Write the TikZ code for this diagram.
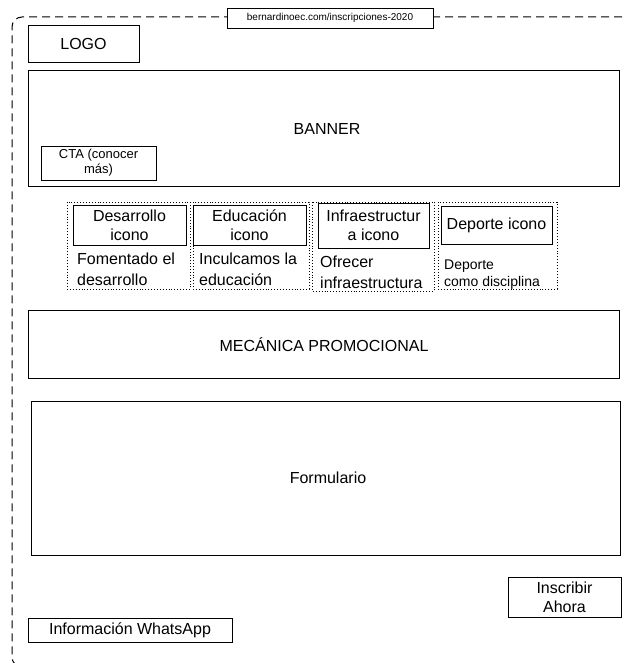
\documentclass[tikz,border=0pt]{standalone}
\usepackage{fontspec}
\setmainfont{Liberation Sans}
\begin{document}
\begin{tikzpicture}[x=1pt,y=-1pt,
  box/.style={draw=black,line width=0.9pt,fill=white,inner sep=0pt},
  grp/.style={draw=black,line width=0.9pt,dotted,inner sep=0pt},
  frame/.style={draw=black,line width=1pt,dash pattern=on 8pt off 5pt,rounded corners=10pt},
  lbl/.style={font=\fontsize{16}{19}\selectfont,align=center,inner sep=0pt},
  sub/.style={font=\fontsize{16}{21}\selectfont,align=left,inner sep=0pt,anchor=north west},
  subs/.style={font=\fontsize{14}{17}\selectfont,align=left,inner sep=0pt,anchor=north west}]
\useasboundingbox (0,0) rectangle (624,663);
\clip (0,0) rectangle (624,663);
% outer dashed frame
\coordinate (fa) at (700,17);
\coordinate (fb) at (12,17);
\coordinate (fc) at (12,667);
\coordinate (fd) at (700,667);
\draw[frame] (fa) -- (fb) -- (fc) -- (fd);
% url
\draw[box] (227,8) rectangle (433,28);
\node[font=\fontsize{10}{12}\selectfont,inner sep=0pt] (url) at (330,18) {bernardinoec.com/inscripciones-2020};
% logo
\draw[box] (28,25) rectangle (139,62);
\node[lbl] (logo) at (83.5,44) {LOGO};
% banner
\draw[box] (28,70) rectangle (619,186);
\node[lbl] (banner) at (327,129) {BANNER};
\draw[box] (41,146) rectangle (156,180);
\node[font=\fontsize{13}{15}\selectfont,align=center,inner sep=0pt] (cta) at (98.5,163) {CTA (conocer\\más)};
% groups
\draw[grp] (67,202) rectangle (190,289);
\draw[grp] (193,202) rectangle (309,289);
\draw[grp] (312,202) rectangle (434,291);
\draw[grp] (438,202) rectangle (557,289);
% icons
\draw[box] (73,205) rectangle (186,245);
\node[lbl] (i1) at (129.5,225.5) {Desarrollo\\icono};
\draw[box] (193,205) rectangle (306,245);
\node[lbl] (i2) at (249.5,225.5) {Educación\\icono};
\draw[box] (318,203) rectangle (429,248);
\node[lbl] (i3) at (373.5,225.5) {Infraestructur\\a icono};
\draw[box] (441,206) rectangle (552,244);
\node[lbl] (i4) at (496.5,225) {Deporte icono};
% sub texts
\node[sub] (t1) at (77,253) {Fomentado el\\desarrollo};
\node[sub] (t2) at (199,253) {Inculcamos la\\educación};
\node[sub] (t3) at (320,256) {Ofrecer\\infraestructura};
\node[subs] (t4) at (444,260) {Deporte\\como disciplina};
% mecanica
\draw[box] (28,310) rectangle (619,378);
\node[lbl] (mec) at (324,345) {MECÁNICA PROMOCIONAL};
% formulario
\draw[box] (31,401) rectangle (620,555);
\node[lbl] (form) at (328,478) {Formulario};
% inscribir
\draw[box] (508,577) rectangle (621,617);
\node[lbl] (ins) at (564.5,597) {Inscribir\\Ahora};
% whatsapp
\draw[box] (28,618) rectangle (232,642);
\node[lbl] (wa) at (130,630) {Información WhatsApp};
\end{tikzpicture}
\end{document}
